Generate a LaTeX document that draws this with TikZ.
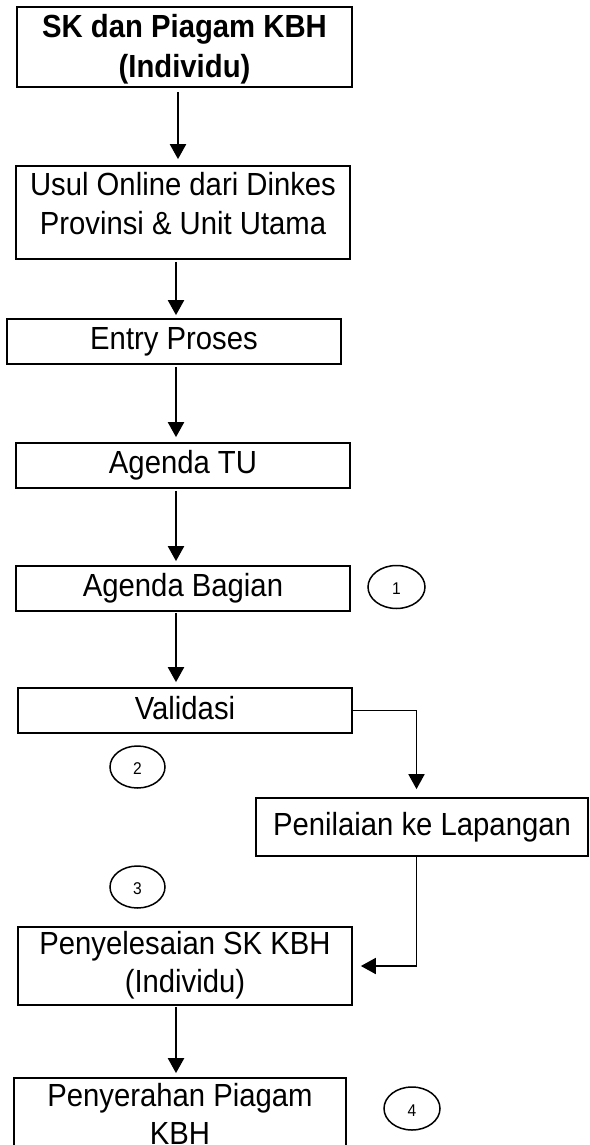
\documentclass[tikz,border=0pt]{standalone}
\usepackage{fontspec}
\setmainfont{Liberation Sans}[FakeStretch=0.915]
\usetikzlibrary{arrows.meta,shapes.geometric}
\newcommand{\shiftv}[2]{\raisebox{#1}[\height][\depth]{#2}}
\begin{document}
\begin{tikzpicture}[x=1pt,y=-1pt,
  box/.style={draw, line width=1.7pt, inner sep=0pt, font=\fontsize{32}{38.5}\selectfont},
  num/.style={draw, ellipse, line width=1.5pt, inner sep=0pt, font=\fontsize{17}{19}\selectfont},
  flow/.style={line width=2.2pt, -{Triangle[length=15pt,width=16pt]}}]
\useasboundingbox (0,0) rectangle (589,1145);
\clip (0,0) rectangle (589,1145);
% boxes
\node[box, minimum width=335pt, minimum height=72pt, font=\bfseries\fontsize{32}{40}\selectfont] (b1) at (184.5,47)
  {\shiftv{-2.5pt}{\begin{tabular}{@{}c@{}}SK dan Piagam KBH\\(Individu)\end{tabular}}};
\node[box, minimum width=334pt, minimum height=93pt] (b2) at (183,212.5)
  {\shiftv{5pt}{\begin{tabular}{@{}c@{}}Usul Online dari Dinkes\\Provinsi \& Unit Utama\end{tabular}}};
\node[box, minimum width=334pt, minimum height=45pt] (b3) at (174,341.5) {Entry Proses};
\node[box, minimum width=334pt, minimum height=45pt] (b4) at (183,465.5) {Agenda TU};
\node[box, minimum width=334pt, minimum height=45pt] (b5) at (183,588.5) {Agenda Bagian};
\node[box, minimum width=334pt, minimum height=45pt] (b6) at (185,710.5) {\shiftv{2pt}{Validasi}};
\node[box, minimum width=332pt, minimum height=58pt] (b7) at (422,827) {Penilaian ke Lapangan};
\node[box, minimum width=334pt, minimum height=78pt] (b8) at (185,966)
  {\begin{tabular}{@{}c@{}}Penyelesaian SK KBH\\(Individu)\end{tabular}};
\node[box, minimum width=332pt, minimum height=80pt] (b9) at (180,1118)
  {\begin{tabular}{@{}c@{}}Penyerahan Piagam\\KBH\end{tabular}};
% numbered ellipses
\node[num, minimum width=57pt, minimum height=43pt] (c1) at (396.5,587) {\shiftv{-2pt}{1}};
\node[num, minimum width=55pt, minimum height=42pt] (c2) at (137.5,767) {\shiftv{-2pt}{2}};
\node[num, minimum width=55pt, minimum height=42pt] (c3) at (137.5,887) {\shiftv{-2pt}{3}};
\node[num, minimum width=56pt, minimum height=43pt] (c4) at (412,1108.5) {\shiftv{-2pt}{4}};
% connector columns
\coordinate (xa) at (178,0);
\coordinate (xb) at (176,0);
\coordinate (xr) at (416.5,0);
% connectors
\draw[flow, shorten <=4pt, shorten >=6pt] (b1.south -| xa) -- (b2.north -| xa);
\draw[flow, shorten <=2pt, shorten >=3pt] (b2.south -| xb) -- (b3.north -| xb);
\draw[flow, shorten <=2pt, shorten >=5pt] (b3.south -| xb) -- (b4.north -| xb);
\draw[flow, shorten <=2pt, shorten >=4pt] (b4.south -| xb) -- (b5.north -| xb);
\draw[flow, shorten <=1pt, shorten >=5pt] (b5.south -| xb) -- (b6.north -| xb);
\draw[flow, line width=1.8pt, shorten >=8pt] (b6.east) -| (b7.north -| xr);
\draw[flow, line width=1.8pt, shorten >=8pt] (b7.south -| xr) |- (b8.east);
\draw[flow, shorten <=1pt, shorten >=4pt] (b8.south -| xb) -- (b9.north -| xb);
\end{tikzpicture}
\end{document}
